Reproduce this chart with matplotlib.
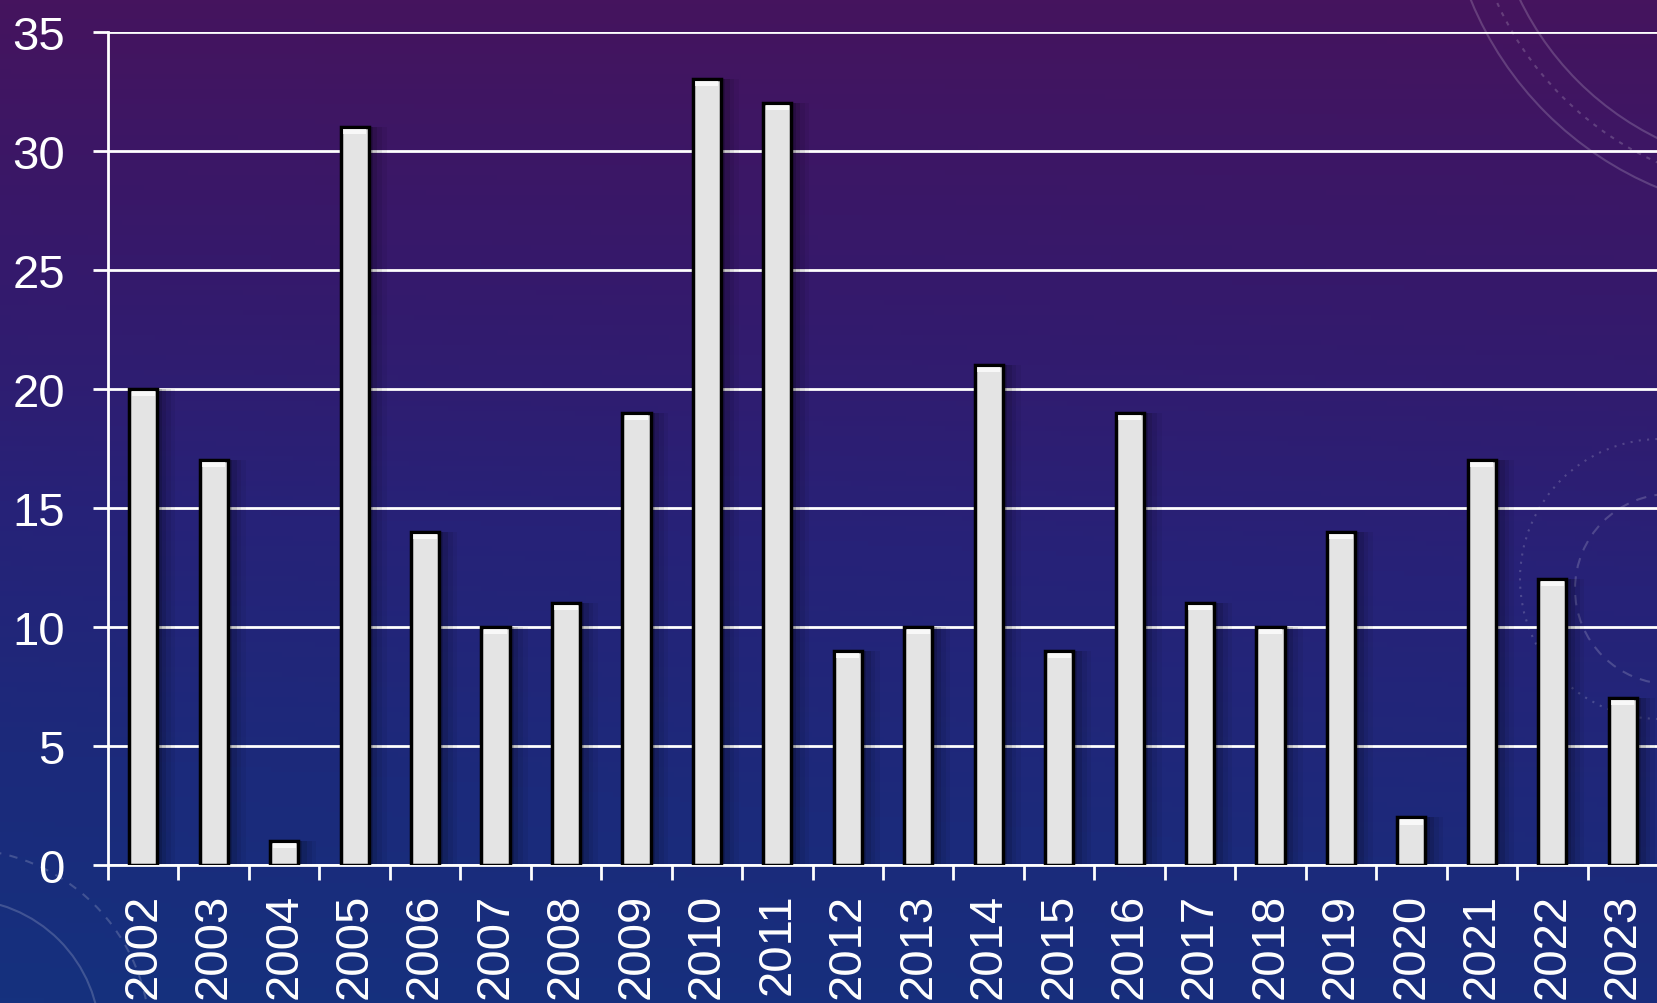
import numpy as np
import matplotlib
matplotlib.use("Agg")
import matplotlib.pyplot as plt
import matplotlib.patches as patches
from matplotlib.colors import LinearSegmentedColormap

# Data
years = ['2002', '2003', '2004', '2005', '2006', '2007', '2008', '2009', '2010', '2011', '2012',
         '2013', '2014', '2015', '2016', '2017', '2018', '2019', '2020', '2021', '2022', '2023']
counts = [20, 17, 1, 31, 14, 10, 11, 19, 33, 32, 9, 10, 21, 9, 19, 11, 10, 14, 2, 17, 12, 7]
y_ticks = [0, 5, 10, 15, 20, 25, 30, 35]

W, H = 1658, 1004
plt.rcParams['font.family'] = ['Liberation Sans', 'DejaVu Sans']

fig = plt.figure(figsize=(W / 100, H / 100), dpi=100)

# background: purple at top fading to deep blue at bottom
bg = fig.add_axes([0, 0, 1, 1])
bg.set_xlim(0, W)
bg.set_ylim(H, 0)
bg.axis('off')
yy, xx = np.mgrid[0:1:200j, 0:1:300j]
t = np.clip(0.85 * yy + 0.15 * (1 - xx) * yy, 0, 1)
cmap = LinearSegmentedColormap.from_list('bg', ['#45145e', '#36196b', '#272278', '#1c2a7b', '#15317e'])
bg.imshow(t, cmap=cmap, extent=[0, W, H, 0], aspect='auto', vmin=0, vmax=1)

# faint decorative dial arcs
for r, ls in [(345, '-'), (300, '-'), (322, (0, (2, 3)))]:
    bg.add_patch(patches.Circle((1790, -130), r, fill=False, ec='white', lw=1.5, ls=ls, alpha=0.18))
for r, ls in [(140, '-'), (190, (0, (4, 4)))]:
    bg.add_patch(patches.Circle((-40, 1040), r, fill=False, ec='white', lw=1.5, ls=ls, alpha=0.18))
bg.add_patch(patches.Circle((1660, 580), 140, fill=False, ec='white', lw=1.5, ls=(0, (1, 3)), alpha=0.18))
bg.add_patch(patches.Circle((1670, 590), 95, fill=False, ec='white', lw=1.5, ls=(0, (5, 4)), alpha=0.18))

left, bottom = 108 / W, 1 - 866 / H
ax = fig.add_axes([left, bottom, 1 - left, (866 - 32.7) / H])
ax.patch.set_alpha(0)

x = np.arange(len(years))
# soft shadow behind bars
for k, a in enumerate([0.14, 0.10, 0.07, 0.05]):
    ax.bar(x + 0.05 + 0.03 * k, counts, width=0.42 + 0.07 * k, color='black', alpha=a,
           lw=0, zorder=2)
ax.bar(x, counts, width=0.4, color='#e4e4e4', edgecolor='black', linewidth=2.5, zorder=3)
# light bevel at the top of each bar
ax.bar(x, [0.22] * len(x), bottom=np.array(counts) - 0.3, width=0.33, color='white',
       alpha=0.75, lw=0, zorder=4)

ax.set_xlim(-0.5, -0.5 + (W - 108) / 71.1)
ax.set_ylim(0, 35)
ax.set_yticks(y_ticks)
ax.set_xticks(x)
ax.set_xticklabels(years, rotation=90)
ax.set_xticks(np.arange(len(years) + 1) - 0.5, minor=True)

ax.grid(axis='y', color='white', lw=2, zorder=1)
ax.set_axisbelow(True)
for s in ['top', 'right']:
    ax.spines[s].set_visible(False)
for s in ['left', 'bottom']:
    ax.spines[s].set_color('white')
    ax.spines[s].set_linewidth(2)

ax.tick_params(axis='y', colors='white', labelsize=34, length=11, width=2, pad=20)
ax.tick_params(axis='x', which='major', colors='white', labelsize=34, length=0, pad=20)
ax.tick_params(axis='x', which='minor', colors='white', length=11, width=2)

fig.savefig('out.png', dpi=100)
